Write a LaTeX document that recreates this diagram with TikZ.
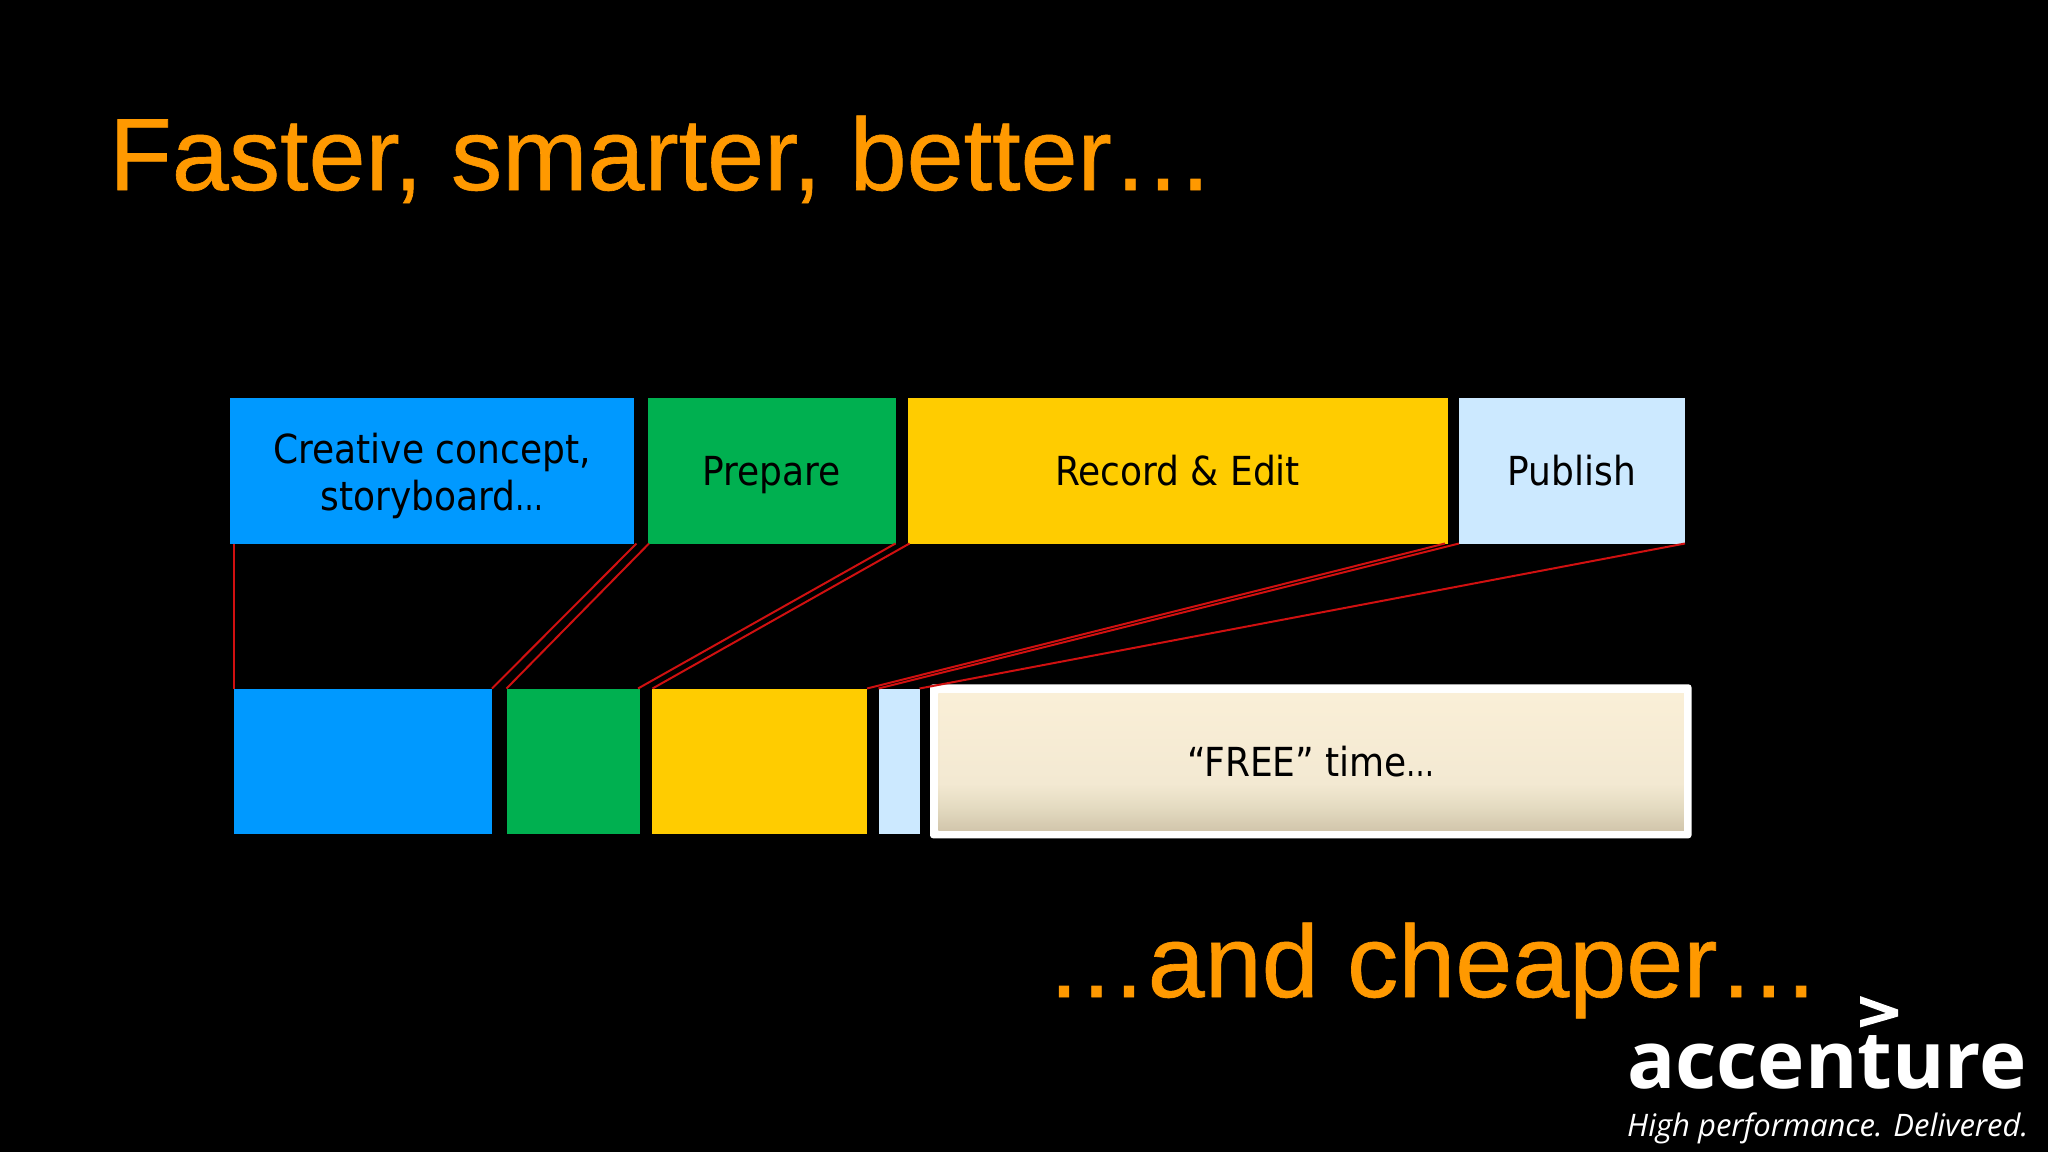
\documentclass[tikz,border=0pt]{standalone}
\usepackage{fontspec}
\setmainfont{Liberation Sans}
\newfontfamily\headfont[FakeBold=0.6]{Liberation Sans}
\newfontfamily\bodyfont{DejaVu Sans Condensed}
\newfontfamily\logofont{Open Sans}
\usetikzlibrary{calc}
\definecolor{cblue}{HTML}{0099FF}
\definecolor{cgreen}{HTML}{00B050}
\definecolor{cyellow}{HTML}{FFCC00}
\definecolor{clight}{HTML}{CCE9FF}
\definecolor{corange}{HTML}{FF9900}
\definecolor{cred}{HTML}{D01010}
\definecolor{freeA}{HTML}{FAEFD7}
\definecolor{freeB}{HTML}{F3E9D2}
\definecolor{freeC}{HTML}{D2C6AC}
\definecolor{freeD}{HTML}{E3DAC0}
\pgfdeclareverticalshading{freeshade}{100bp}{color(0bp)=(freeC); color(25bp)=(freeC); color(33bp)=(freeD); color(42bp)=(freeB); color(75bp)=(freeA); color(100bp)=(freeA)}
\newcommand{\tightell}{\scalebox{0.78}[1]{…}}
\tikzset{
  barbox/.style={anchor=north west,inner sep=0pt,outer sep=0pt,text=black,align=center,
    font=\bodyfont\fontsize{40}{47}\selectfont},
  onerow/.style={text height=30pt,text depth=0pt},
  heading/.style={anchor=base west,inner sep=0pt,text=corange,font=\headfont\fontsize{102.5}{110}\selectfont},
  link/.style={draw=cred,line width=2pt},
}
\begin{document}
\begin{tikzpicture}[x=1pt,y=-1pt]
\useasboundingbox (0,0) rectangle (2048,1152);
\fill[black] (0,0) rectangle (2048,1152);
\node[heading] (title) at (109,190) {Faster, smarter, better…};
\node[heading] (cheaper) at (1045,997) {…and cheaper…};
% top row
\node[barbox,fill=cblue,minimum width=404pt,minimum height=145.5pt] (t1) at (230,398) {\rule{0pt}{41pt}Creative concept,\\storyboard\tightell\rule[-9pt]{0pt}{9pt}};
\node[barbox,onerow,fill=cgreen,minimum width=248pt,minimum height=145.5pt] (t2) at (647.5,398) {Prepare};
\node[barbox,onerow,fill=cyellow,minimum width=540.5pt,minimum height=145.5pt] (t3) at (907.5,398) {Record \& Edit};
\node[barbox,onerow,fill=clight,minimum width=226pt,minimum height=145.5pt] (t4) at (1459,398) {Publish};
% bottom row
\node[barbox,fill=cblue,minimum width=258pt,minimum height=145.5pt] (b1) at (234,688.5) {};
\node[barbox,fill=cgreen,minimum width=133.5pt,minimum height=145.5pt] (b2) at (506.5,688.5) {};
\node[barbox,fill=cyellow,minimum width=215.5pt,minimum height=145.5pt] (b3) at (651.5,688.5) {};
\node[barbox,fill=clight,minimum width=41pt,minimum height=145.5pt] (b4) at (878.5,688.5) {};
\node[anchor=north west,inner sep=0pt,outer sep=0pt,fill=white,rounded corners=3pt,minimum width=761.5pt,minimum height=154pt] (freeframe) at (930,684.3) {};
\node[barbox,onerow,shading=freeshade,minimum width=745.5pt,minimum height=137pt] (free) at (938.3,693) {“FREE” time\tightell};
% connectors
\draw[link] (b1.north west |- t1.south) -- (b1.north west);
\draw[link] ([xshift=2.5pt]t1.south east) -- (b1.north east);
\draw[link] ([xshift=1.5pt]t2.south west) -- (b2.north west);
\draw[link] (t2.south east) -- ([xshift=-2pt]b2.north east);
\draw[link] ([xshift=2pt]t3.south west) -- ([xshift=1pt]b3.north west);
\draw[link] ([xshift=-3pt]t3.south east) -- (b3.north east);
\draw[link] (t4.south west) -- (b4.north west);
\draw[link] (t4.south east) -- (b4.north east);
% logo
\fill[white] (1860,996) -- (1898,1009.5) -- (1898,1016.5) -- (1860,1027.5) -- (1860,1020) -- (1886,1013) -- (1860,1003.5) -- cycle;
\node[anchor=base west,inner sep=0pt,text=white,font=\logofont\bfseries\fontsize{80}{80}\selectfont] (logo) at (1627,1088) {accenture};
\node[anchor=base west,inner sep=0pt,text=white,font=\logofont\itshape\fontsize{31}{31}\selectfont] (tag) at (1627,1136) {High performance. Delivered.};
\end{tikzpicture}
\end{document}
